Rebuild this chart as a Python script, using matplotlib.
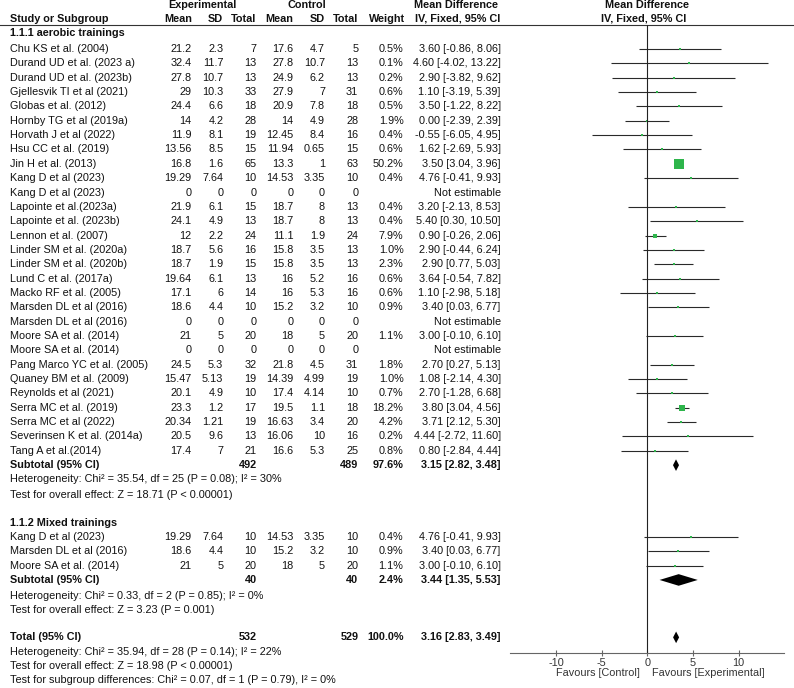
import matplotlib
matplotlib.use("Agg")
import matplotlib.pyplot as plt

plt.rcParams['font.family'] = ['Liberation Sans', 'DejaVu Sans']
FS = 7.8

# ---- data ----
aero_names = ["Chu KS et al. (2004)", "Durand UD et al. (2023 a)", "Durand UD et al. (2023b)",
              "Gjellesvik TI et al (2021)", "Globas et al. (2012)", "Hornby TG et al (2019a)",
              "Horvath J et al (2022)", "Hsu CC et al. (2019)", "Jin H et al. (2013)",
              "Kang D et al (2023)", "Kang D et al (2023)", "Lapointe et al.(2023a)",
              "Lapointe et al. (2023b)", "Lennon et al. (2007)", "Linder SM et al. (2020a)",
              "Linder SM et al. (2020b)", "Lund C et al. (2017a)", "Macko RF et al. (2005)",
              "Marsden DL et al (2016)", "Marsden DL et al (2016)", "Moore SA et al. (2014)",
              "Moore SA et al. (2014)", "Pang Marco YC et al. (2005)", "Quaney BM et al. (2009)",
              "Reynolds et al (2021)", "Serra MC et al. (2019)", "Serra MC et al (2022)",
              "Severinsen K et al. (2014a)", "Tang A et al.(2014)"]
aero_exp_mean = [21.2, 32.4, 27.8, 29, 24.4, 14, 11.9, 13.56, 16.8, 19.29, 0, 21.9, 24.1, 12, 18.7,
                 18.7, 19.64, 17.1, 18.6, 0, 21, 0, 24.5, 15.47, 20.1, 23.3, 20.34, 20.5, 17.4]
aero_exp_sd = [2.3, 11.7, 10.7, 10.3, 6.6, 4.2, 8.1, 8.5, 1.6, 7.64, 0, 6.1, 4.9, 2.2, 5.6,
               1.9, 6.1, 6, 4.4, 0, 5, 0, 5.3, 5.13, 4.9, 1.2, 1.21, 9.6, 7]
aero_exp_n = [7, 13, 13, 33, 18, 28, 19, 15, 65, 10, 0, 15, 13, 24, 16,
              15, 13, 14, 10, 0, 20, 0, 32, 19, 10, 17, 19, 13, 21]
aero_ctl_mean = [17.6, 27.8, 24.9, 27.9, 20.9, 14, 12.45, 11.94, 13.3, 14.53, 0, 18.7, 18.7, 11.1, 15.8,
                 15.8, 16, 16, 15.2, 0, 18, 0, 21.8, 14.39, 17.4, 19.5, 16.63, 16.06, 16.6]
aero_ctl_sd = [4.7, 10.7, 6.2, 7, 7.8, 4.9, 8.4, 0.65, 1, 3.35, 0, 8, 8, 1.9, 3.5,
               3.5, 5.2, 5.3, 3.2, 0, 5, 0, 4.5, 4.99, 4.14, 1.1, 3.4, 10, 5.3]
aero_ctl_n = [5, 13, 13, 31, 18, 28, 16, 15, 63, 10, 0, 13, 13, 24, 13,
              13, 16, 16, 10, 0, 20, 0, 31, 19, 10, 18, 20, 16, 25]
aero_weight = [0.5, 0.1, 0.2, 0.6, 0.5, 1.9, 0.4, 0.6, 50.2, 0.4, None, 0.4, 0.4, 7.9, 1.0,
               2.3, 0.6, 0.6, 0.9, None, 1.1, None, 1.8, 1.0, 0.7, 18.2, 4.2, 0.2, 0.8]
aero_md = [3.60, 4.60, 2.90, 1.10, 3.50, 0.00, -0.55, 1.62, 3.50, 4.76, None, 3.20, 5.40, 0.90, 2.90,
           2.90, 3.64, 1.10, 3.40, None, 3.00, None, 2.70, 1.08, 2.70, 3.80, 3.71, 4.44, 0.80]
aero_lo = [-0.86, -4.02, -3.82, -3.19, -1.22, -2.39, -6.05, -2.69, 3.04, -0.41, None, -2.13, 0.30, -0.26, -0.44,
           0.77, -0.54, -2.98, 0.03, None, -0.10, None, 0.27, -2.14, -1.28, 3.04, 2.12, -2.72, -2.84]
aero_hi = [8.06, 13.22, 9.62, 5.39, 8.22, 2.39, 4.95, 5.93, 3.96, 9.93, None, 8.53, 10.50, 2.06, 6.24,
           5.03, 7.82, 5.18, 6.77, None, 6.10, None, 5.13, 4.30, 6.68, 4.56, 5.30, 11.60, 4.44]

mix_names = ["Kang D et al (2023)", "Marsden DL et al (2016)", "Moore SA et al. (2014)"]
mix_exp_mean = [19.29, 18.6, 21]
mix_exp_sd = [7.64, 4.4, 5]
mix_exp_n = [10, 10, 20]
mix_ctl_mean = [14.53, 15.2, 18]
mix_ctl_sd = [3.35, 3.2, 5]
mix_ctl_n = [10, 10, 20]
mix_weight = [0.4, 0.9, 1.1]
mix_md = [4.76, 3.40, 3.00]
mix_lo = [-0.41, 0.03, -0.10]
mix_hi = [9.93, 6.77, 6.10]

# subgroup / overall summaries: exp total, ctl total, weight, md, lo, hi
aero_sub = (492, 489, 97.6, 3.15, 2.82, 3.48)
mix_sub = (40, 40, 2.4, 3.44, 1.35, 5.53)
total = (532, 529, 100.0, 3.16, 2.83, 3.49)

aero_het = ["Heterogeneity: Chi\u00b2 = 35.54, df = 25 (P = 0.08); I\u00b2 = 30%",
            "Test for overall effect: Z = 18.71 (P < 0.00001)"]
mix_het = ["Heterogeneity: Chi\u00b2 = 0.33, df = 2 (P = 0.85); I\u00b2 = 0%",
           "Test for overall effect: Z = 3.23 (P = 0.001)"]
total_het = ["Heterogeneity: Chi\u00b2 = 35.94, df = 28 (P = 0.14); I\u00b2 = 22%",
             "Test for overall effect: Z = 18.98 (P < 0.00001)",
             "Test for subgroup differences: Chi\u00b2 = 0.07, df = 1 (P = 0.79), I\u00b2 = 0%"]

ticks = [-10, -5, 0, 5, 10]

# ---- layout (pixels) ----
W, H = 794, 688
ROW0, DY = 49, 14.35
def ypix(r):
    return ROW0 + DY * r

col_x = [191.7, 223.3, 256.7, 293.3, 325, 358.3]  # right edges of numeric columns
X_W = 403.5
X_CI = 500.7
GREEN = '#2eb54b'

fig = plt.figure(figsize=(W / 100, H / 100), dpi=100)
tax = fig.add_axes([0, 0, 1, 1])
tax.set_xlim(0, W)
tax.set_ylim(H, 0)
tax.axis('off')

ax_top, ax_bot = 25, 652.7
ax_l, ax_r = 510.3, 784.2
ax = fig.add_axes([ax_l / W, 1 - ax_bot / H, (ax_r - ax_l) / W, (ax_bot - ax_top) / H])
ax.patch.set_visible(False)
ax.set_xlim(-15, 15)
ax.set_ylim((ax_bot - ROW0) / DY, (ax_top - ROW0) / DY)


def txt(x, y, s, ha='right', bold=False, color='#111111'):
    tax.text(x, y, s, ha=ha, va='center', fontsize=FS,
             fontweight='bold' if bold else 'normal', color=color)


def g(v):
    return '%g' % v


# header
txt(202, 5.5, "Experimental", ha='center', bold=True)
txt(307, 5.5, "Control", ha='center', bold=True)
txt(456, 5.5, "Mean Difference", ha='center', bold=True)
txt(647, 5.5, "Mean Difference", ha='center', bold=True)
txt(10, 18.5, "Study or Subgroup", ha='left', bold=True)
for x, s in zip(col_x, ["Mean", "SD", "Total", "Mean", "SD", "Total"]):
    txt(x, 18.5, s, bold=True)
txt(405, 18.5, "Weight", bold=True)
txt(458, 18.5, "IV, Fixed, 95% CI", ha='center', bold=True)
txt(644, 18.5, "IV, Fixed, 95% CI", ha='center', bold=True)
tax.plot([0, W], [25, 25], color='#333333', lw=0.8)


def study_rows(start, names, em, es, en, cm, cs, cn, wt, md, lo, hi):
    for i in range(len(names)):
        r = start + i
        y = ypix(r)
        txt(10, y, names[i], ha='left')
        for x, v in zip(col_x, [em[i], es[i], en[i], cm[i], cs[i], cn[i]]):
            txt(x, y, g(v))
        if md[i] is None:
            txt(X_CI, y, "Not estimable")
            continue
        txt(X_W, y, "%.1f%%" % wt[i])
        txt(X_CI, y, "%.2f [%.2f, %.2f]" % (md[i], lo[i], hi[i]))
        ax.hlines(r, lo[i], hi[i], color='#2a2a2a', lw=0.8)
        side = max(2.3, 1.28 * wt[i] ** 0.5)
        ax.plot(md[i], r, marker='s', ms=side * 0.72, color=GREEN, mew=0, ls='none')


def summary_row(r, label, vals):
    y = ypix(r)
    ne, nc, wt, md, lo, hi = vals
    txt(10, y, label, ha='left', bold=True)
    txt(col_x[2], y, str(ne), bold=True)
    txt(col_x[5], y, str(nc), bold=True)
    txt(X_W, y, "%.1f%%" % wt, bold=True)
    txt(X_CI, y, "%.2f [%.2f, %.2f]" % (md, lo, hi), bold=True)
    hh = 5.8 / DY
    ax.fill([lo, md, hi, md], [r, r - hh, r, r + hh], color='black', lw=0)


txt(10, 33.5, "1.1.1 aerobic trainings", ha='left', bold=True)
study_rows(0, aero_names, aero_exp_mean, aero_exp_sd, aero_exp_n, aero_ctl_mean,
           aero_ctl_sd, aero_ctl_n, aero_weight, aero_md, aero_lo, aero_hi)
summary_row(29, "Subtotal (95% CI)", aero_sub)
for k, s in enumerate(aero_het):
    txt(10, ypix(30) + 15 * k, s, ha='left')

txt(10, ypix(33), "1.1.2 Mixed trainings", ha='left', bold=True)
study_rows(34, mix_names, mix_exp_mean, mix_exp_sd, mix_exp_n, mix_ctl_mean,
           mix_ctl_sd, mix_ctl_n, mix_weight, mix_md, mix_lo, mix_hi)
summary_row(37, "Subtotal (95% CI)", mix_sub)
for k, s in enumerate(mix_het):
    txt(10, ypix(38) + 1.5 + 14.3 * k, s, ha='left')

summary_row(41, "Total (95% CI)", total)
for k, s in enumerate(total_het):
    txt(10, ypix(42) + 14.35 * k, s, ha='left')

# forest axis
ax.axvline(0, color='#222222', lw=0.8)
for sp in ['top', 'right', 'left']:
    ax.spines[sp].set_visible(False)
ax.spines['bottom'].set_color('#666666')
ax.spines['bottom'].set_linewidth(0.8)
ax.set_yticks([])
ax.set_xticks(ticks)
ax.set_xticklabels([str(t) for t in ticks])
ax.tick_params(axis='x', direction='inout', length=5, width=0.8, color='#666666',
               labelsize=FS, labelcolor='#333333', pad=1)

txt(640, 673.5, "Favours [Control]", color='#333333')
txt(652, 673.5, "Favours [Experimental]", ha='left', color='#333333')

fig.savefig("out.png", dpi=100)
